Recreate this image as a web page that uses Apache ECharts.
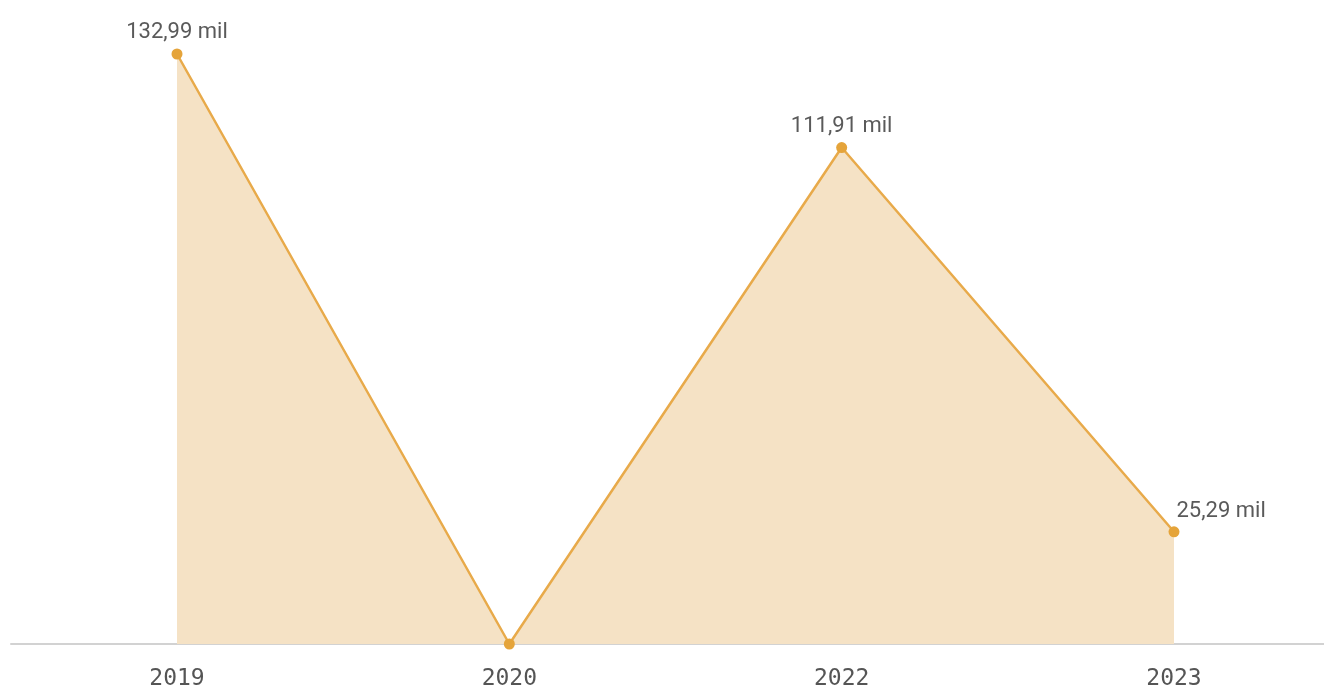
<!DOCTYPE html>
<html>
<head>
<meta charset="utf-8">
<script src="https://cdn.jsdelivr.net/npm/echarts@6/dist/echarts.min.js"></script>
<style>
  html, body { margin: 0; padding: 0; background: #fff; }
  #main { width: 1324px; height: 693px; }
</style>
</head>
<body>
<div id="main"></div>
<script>
const years = ['2019', '2020', '2022', '2023'];
const values = [132.99, 0, 111.91, 25.29];
const labelText = ['132,99 mil', '', '111,91 mil', '25,29 mil'];

const chart = echarts.init(document.getElementById('main'));

const lineColor = '#e8aa4a';

const seriesData = values.map((v, i) => {
  const item = { value: v };
  if (!labelText[i]) {
    item.label = { show: false };
  } else if (i === values.length - 1) {
    item.label = { position: 'right', offset: [-8, -20] };
  }
  return item;
});

const option = {
  animation: false,
  grid: [
    { left: 177, right: 150, top: 54, bottom: 49 },
    { left: 11, right: 0, top: 54, bottom: 49 }
  ],
  xAxis: [{
    type: 'category',
    gridIndex: 0,
    data: years,
    boundaryGap: false,
    axisLine: { show: false },
    axisTick: { show: false },
    axisLabel: {
      color: '#555',
      fontFamily: 'DejaVu Sans Mono',
      fontSize: 23,
      margin: 24
    }
  }, {
    type: 'category',
    gridIndex: 1,
    data: years,
    axisLine: { show: true, lineStyle: { color: '#d2d2d2', width: 2 } },
    axisTick: { show: false },
    axisLabel: { show: false }
  }],
  yAxis: [{
    type: 'value',
    gridIndex: 0,
    min: 0,
    max: 'dataMax',
    show: false
  }, {
    type: 'value',
    gridIndex: 1,
    show: false
  }],
  series: [{
    type: 'line',
    xAxisIndex: 0,
    yAxisIndex: 0,
    data: seriesData,
    symbol: 'circle',
    symbolSize: 11,
    itemStyle: { color: '#e5a43a' },
    lineStyle: { color: lineColor, width: 2.5 },
    areaStyle: { color: '#f5e2c5', opacity: 1 },
    label: {
      show: true,
      position: 'top',
      distance: 5,
      color: '#5a5a5a',
      fontFamily: 'Roboto',
      fontSize: 22,
      formatter: p => labelText[p.dataIndex]
    },
    z: 3
  }]
};

chart.setOption(option);
</script>
</body>
</html>
